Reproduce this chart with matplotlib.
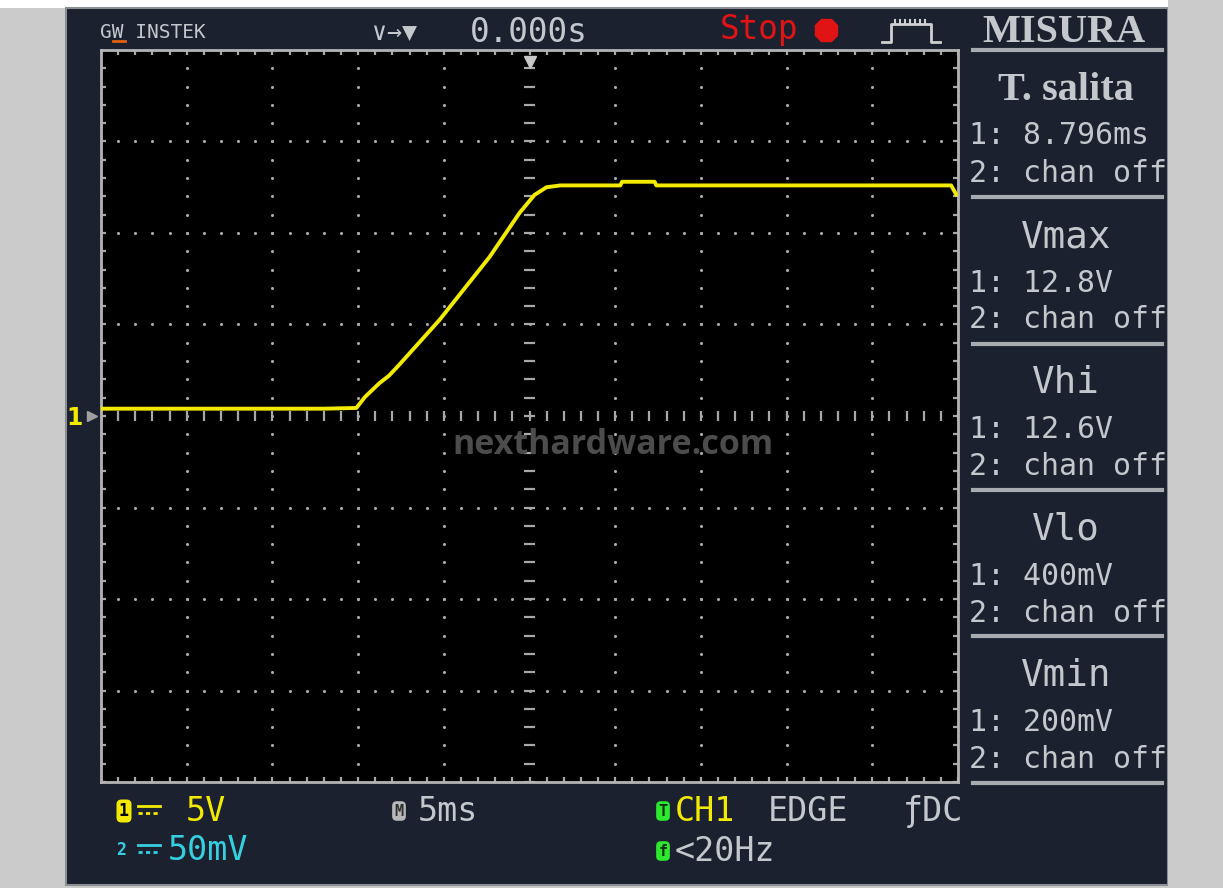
import numpy as np
import matplotlib
matplotlib.use("Agg")
import matplotlib.pyplot as plt
from matplotlib.patches import Rectangle
from matplotlib.lines import Line2D

W, H = 1223, 888

# channel 1 trace (time in ms, voltage in V)
t_ms = [-25.0, -18.0, -12.0, -10.1, -9.6, -8.75, -8.2, -7.6, -5.25, -2.33,
        -0.58, 0.29, 0.99, 1.8, 5.3, 5.4, 7.3, 7.4, 12.0, 20.0, 24.6, 24.9]
v_ch1 = [0.4, 0.4, 0.4, 0.44, 1.04, 1.8, 2.2, 2.8, 5.25, 8.69,
         11.1, 12.08, 12.5, 12.6, 12.6, 12.8, 12.8, 12.6, 12.6, 12.6, 12.6, 12.1]

ms_per_div = 5
volt_per_div = 5
n_xdiv, n_ydiv = 10, 8

meas_titles = ["T. salita", "Vmax", "Vhi", "Vlo", "Vmin"]
meas_ch1 = ["8.796ms", "12.8V", "12.6V", "400mV", "200mV"]
meas_ch2 = ["chan off", "chan off", "chan off", "chan off", "chan off"]

MONO = ["DejaVu Sans Mono", "DejaVu Sans"]
GRAY = "#c4c7cc"
YELLOW = "#f2ea00"
CYAN = "#35d0e0"
GREEN = "#2ee830"
PANEL = "#1c2130"


def fx(x):
    return x / W


def fy(y):
    return 1 - y / H


def ptext(x, y, s, **kw):
    kw.setdefault("va", "center")
    kw.setdefault("family", MONO)
    kw.setdefault("color", GRAY)
    kw.setdefault("zorder", 5)
    return fig.text(fx(x), fy(y), s, **kw)


def pline(xs, ys, **kw):
    kw.setdefault("zorder", 5)
    fig.add_artist(Line2D([fx(v) for v in xs], [fy(v) for v in ys], **kw))


fig = plt.figure(figsize=(12.23, 8.88), dpi=100, facecolor="#cbcbcb")
fig.patches.append(Rectangle((0, fy(8)), fx(1168), 1 - fy(8), transform=fig.transFigure,
                             facecolor="white", edgecolor="none", zorder=0))
fig.patches.append(Rectangle((fx(66), fy(885)), fx(1168) - fx(66), fy(8) - fy(885),
                             transform=fig.transFigure, facecolor=PANEL,
                             edgecolor="#8a8d92", lw=1.5, zorder=0))

ax = fig.add_axes([fx(101), fy(782), fx(958) - fx(101), fy(50) - fy(782)])
ax.set_zorder(2)
ax.set_facecolor("black")
xmax = n_xdiv / 2 * ms_per_div
ymax = n_ydiv / 2 * volt_per_div
ax.set_xlim(-xmax, xmax)
ax.set_ylim(-ymax, ymax)
ax.set_xticks([])
ax.set_yticks([])
for s in ax.spines.values():
    s.set_color("#b4b4b4")
    s.set_linewidth(2)

# graticule
xs_minor = np.arange(-xmax, xmax + 0.01, ms_per_div / 5)
ys_minor = np.arange(-ymax, ymax + 0.01, volt_per_div / 5)
dot = dict(s=5, color="#a8a8a8", linewidths=0, zorder=1)
for xv in np.arange(-xmax + ms_per_div, xmax, ms_per_div):
    if xv != 0:
        ax.scatter(np.full(len(ys_minor) - 2, xv), ys_minor[1:-1], **dot)
for yv in np.arange(-ymax + volt_per_div, ymax, volt_per_div):
    if yv != 0:
        ax.scatter(xs_minor[1:-1], np.full(len(xs_minor) - 2, yv), **dot)
tick = dict(color="#a8a8a8", lw=1.6, zorder=1)
ax.vlines(xs_minor, -0.3, 0.3, **tick)
ax.hlines(ys_minor, -0.35, 0.35, **tick)
ax.vlines(xs_minor, ymax - 0.3, ymax, **tick)
ax.vlines(xs_minor, -ymax, -ymax + 0.3, **tick)
ax.hlines(ys_minor, -xmax, -xmax + 0.3, **tick)
ax.hlines(ys_minor, xmax - 0.3, xmax, **tick)

# watermark
ax.text(0.597, 0.46, "nexthardware.com", transform=ax.transAxes, ha="center", va="center",
        family="Open Sans", weight="bold", size=24.5, color="#4c4c4c", zorder=2)

ax.plot(t_ms, v_ch1, color=YELLOW, lw=2.8, solid_joinstyle="round", zorder=3)
ax.plot([0], [ymax - 0.65], marker="v", color="#c8c8c8", ms=9, clip_on=False, zorder=4)

# channel 1 ground marker
ptext(75, 418, "1", color=YELLOW, size=17, weight="bold", ha="center", family="DejaVu Sans")
pline([92], [416], marker=">", color="#a0a0a0", ms=7)

# top bar
ptext(100, 33, "GW INSTEK", size=14)
pline([113, 125], [41, 41], color="#e06010", lw=2)
ptext(372, 33, "∨→▼", size=18)
ptext(470, 33, "0.000s", size=23.5)
ptext(720, 30, "Stop", size=23.5, color="#e01414")
pline([826], [30], marker="8", color="#e01414", ms=17)
pline([882, 891, 891, 931, 931, 940], [42, 42, 24, 24, 42, 42], color="#d0d0d0", lw=2)
for xr in range(895, 929, 5):
    pline([xr, xr], [24, 20], color="#d0d0d0", lw=1.5)
ptext(1064, 33, "MISURA", family="Liberation Serif", weight="bold", size=29, ha="center")

# measurement panel
for ysep in [50, 197, 344, 490, 636, 783]:
    pline([973, 1162], [ysep, ysep], color="#a8acb0", lw=3)
for i, ytop in enumerate([90, 237, 383, 530, 676]):
    if i == 0:
        ptext(1066, ytop, meas_titles[i], family="Liberation Serif", weight="bold",
              size=29, ha="center")
    else:
        ptext(1066, ytop, meas_titles[i], size=27, ha="center")
    ptext(969, ytop + 46, "1: " + meas_ch1[i], size=21.5)
    ptext(969, ytop + 83, "2: " + meas_ch2[i], size=21.5)

# bottom status bar
badge = dict(boxstyle="round,pad=0.15,rounding_size=0.3", edgecolor="none")
ptext(124, 811, "1", size=12, weight="bold", color="black", ha="center",
      bbox=dict(facecolor=YELLOW, **badge))
pline([138, 160], [806, 806], color=YELLOW, lw=2)
pline([138, 160], [813, 813], color=YELLOW, lw=2, ls=(0, (1.5, 1.2)))
ptext(186, 811, "5V", size=24, color=YELLOW)
ptext(121, 850, "2", size=12, weight="bold", color=CYAN, ha="center")
pline([138, 160], [845, 845], color=CYAN, lw=2)
pline([138, 160], [852, 852], color=CYAN, lw=2, ls=(0, (1.5, 1.2)))
ptext(168, 850, "50mV", size=24, color=CYAN)
ptext(399, 811, "M", size=11, weight="bold", color="#303030", ha="center",
      bbox=dict(facecolor="#b8b8b8", **badge))
ptext(418, 811, "5ms", size=24)
ptext(663, 811, "T", size=11, weight="bold", color="#103010", ha="center",
      bbox=dict(facecolor=GREEN, **badge))
ptext(675, 811, "CH1", size=24, color=YELLOW)
ptext(768, 811, "EDGE", size=24)
ptext(903, 811, "ƒDC", size=24)
ptext(663, 851, "f", size=11, weight="bold", color="#103010", ha="center",
      bbox=dict(facecolor=GREEN, **badge))
ptext(675, 851, "<20Hz", size=24)

# outer margin drawn last so the panel text is clipped at the frame edge
fig.patches.append(Rectangle((fx(1168), 0), 1 - fx(1168), 1, transform=fig.transFigure,
                             facecolor="#cbcbcb", edgecolor="none", zorder=10))

fig.savefig("out.png", dpi=100, facecolor=fig.get_facecolor())
